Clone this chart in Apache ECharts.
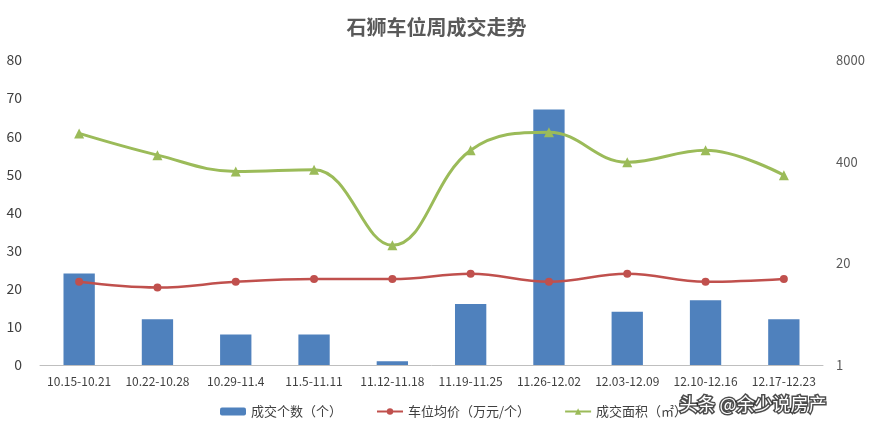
<!DOCTYPE html>
<html>
<head>
<meta charset="utf-8">
<script src="https://cdn.jsdelivr.net/npm/echarts@6/dist/echarts.min.js"></script>
<style>
  html, body { margin: 0; padding: 0; background: #fff; }
  #chart { width: 873px; height: 429px; }
</style>
</head>
<body>
<div id="chart"></div>
<script>
const weeks = ['10.15-10.21', '10.22-10.28', '10.29-11.4', '11.5-11.11', '11.12-11.18',
  '11.19-11.25', '11.26-12.02', '12.03-12.09', '12.10-12.16', '12.17-12.23']
// 成交个数（个）
const dealCount = [24, 12, 8, 8, 1, 16, 67, 14, 17, 12]
// 车位均价（万元/个） - right log axis
const avgPrice = [11.6, 9.8, 11.6, 12.6, 12.6, 14.7, 11.6, 14.7, 11.6, 12.6]
// 成交面积（㎡） - right log axis
const dealArea = [920, 485, 300, 316, 34, 560, 950, 393, 560, 268]

const chart = echarts.init(document.getElementById('chart'))

const font = '"Noto Sans CJK SC", "Microsoft YaHei", sans-serif'

chart.setOption({
  animation: false,
  textStyle: { fontFamily: font },
  title: {
    text: '石狮车位周成交走势',
    left: 'center',
    top: 12,
    textStyle: { fontSize: 20, fontWeight: 'bold', color: '#595959', fontFamily: font },
  },
  legend: {
    bottom: 6,
    left: 215,
    itemGap: 34,
    itemWidth: 26,
    itemHeight: 8,
    textStyle: { fontSize: 13, color: '#404040' },
    data: ['成交个数（个）', '车位均价（万元/个）', '成交面积（㎡）'],
  },
  grid: { left: 40, right: 50, top: 60, bottom: 64 },
  xAxis: {
    type: 'category',
    data: weeks,
    axisLine: { lineStyle: { color: '#bfbfbf' } },
    axisTick: { lineStyle: { color: '#bfbfbf' } },
    axisLabel: { color: '#404040', fontSize: 12, margin: 10, interval: 0 },
  },
  yAxis: [
    {
      type: 'value',
      min: 0, max: 80, interval: 10,
      axisLine: { show: false },
      axisTick: { show: false },
      splitLine: { show: false },
      axisLabel: { color: '#404040', fontSize: 14, margin: 18 },
    },
    {
      type: 'log',
      logBase: 20,
      min: 1, max: 8000,
      interval: 1,
      axisLine: { show: false },
      axisTick: { show: false },
      splitLine: { show: false },
      axisLabel: { color: '#595959', fontSize: 13, margin: 13, formatter: v => String(Math.round(v)) },
    },
  ],
  series: [
    {
      name: '成交个数（个）',
      type: 'bar',
      data: dealCount,
      barWidth: '40%',
      itemStyle: { color: '#4f81bd' },
    },
    {
      name: '车位均价（万元/个）',
      type: 'line',
      yAxisIndex: 1,
      data: avgPrice,
      smooth: 0.4,
      symbol: 'circle',
      symbolSize: 8,
      lineStyle: { color: '#c0504d', width: 2.5 },
      itemStyle: { color: '#c0504d' },
    },
    {
      name: '成交面积（㎡）',
      type: 'line',
      yAxisIndex: 1,
      data: dealArea,
      smooth: 0.4,
      symbol: 'triangle',
      symbolSize: 10,
      lineStyle: { color: '#9bbb59', width: 3 },
      itemStyle: { color: '#9bbb59' },
    },
  ],
  graphic: [
    {
      type: 'text',
      left: 678,
      top: 394,
      z: 100,
      style: {
        text: '头条 @余少说房产',
        fill: '#ffffff',
        stroke: 'rgba(30,30,30,0.8)',
        lineWidth: 3,
        strokeFirst: true,
        fontSize: 18,
        fontFamily: font,
      },
    },
  ],
})
</script>
</body>
</html>
